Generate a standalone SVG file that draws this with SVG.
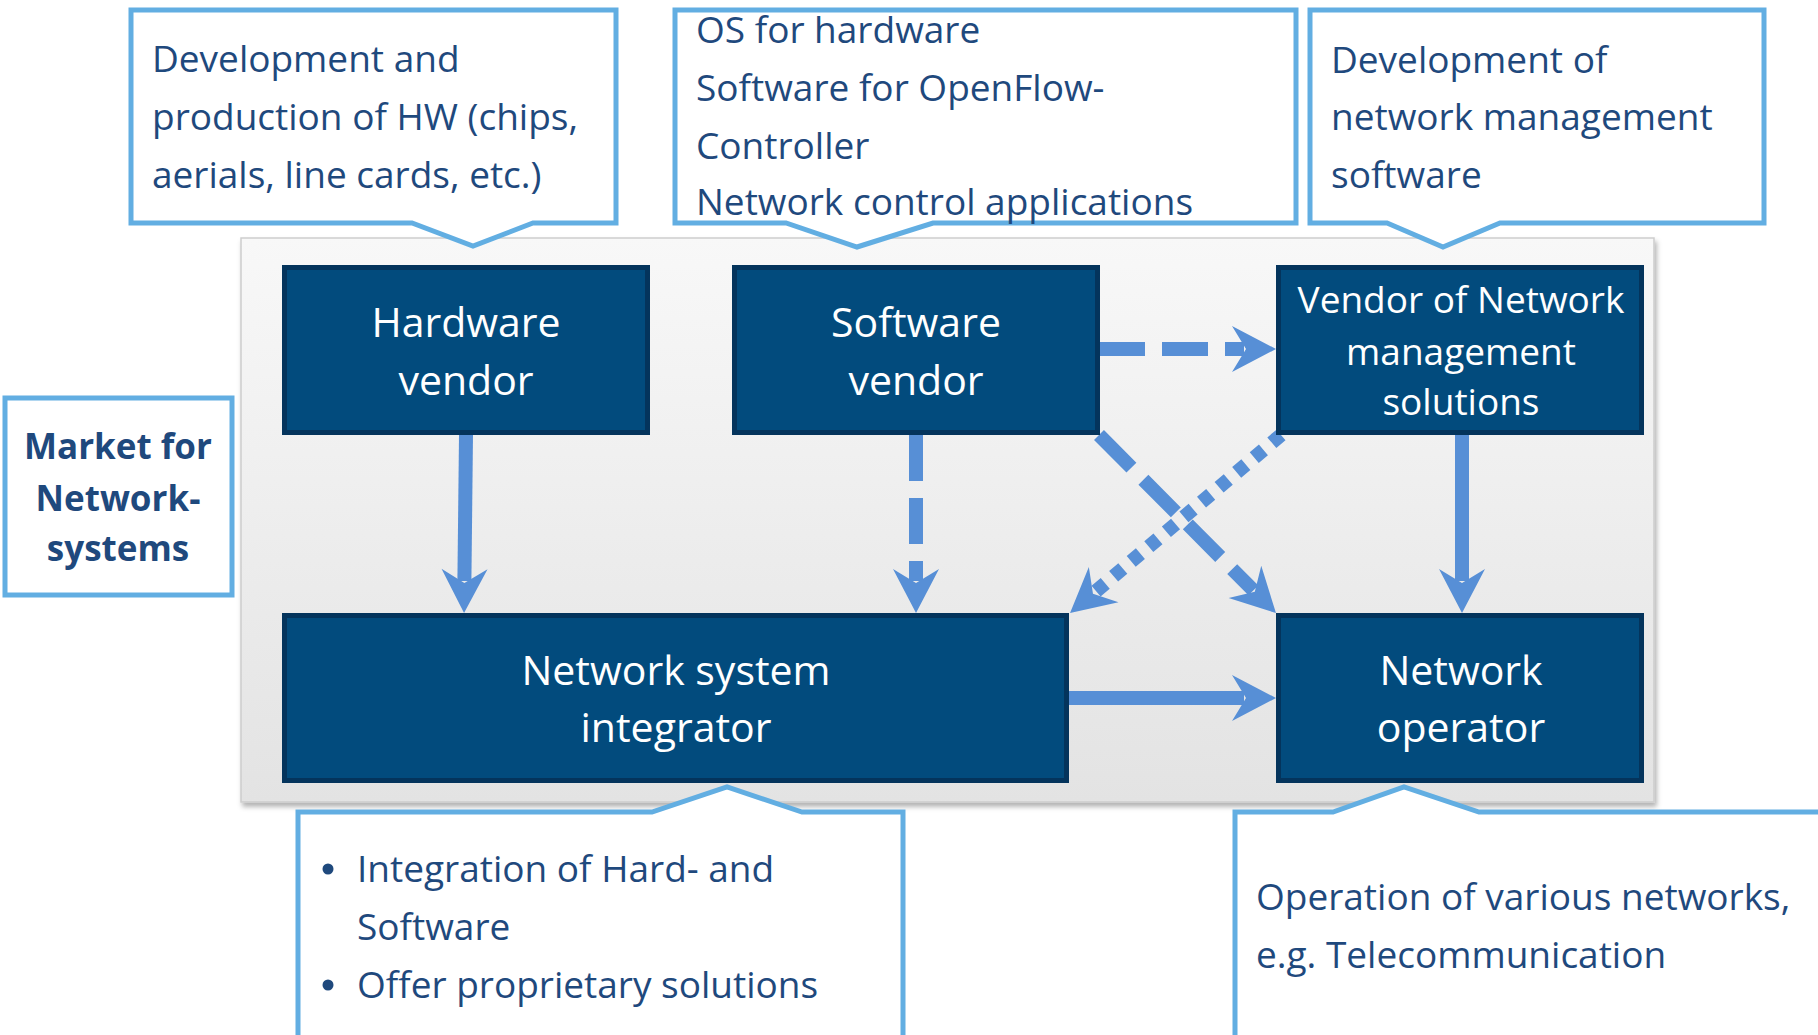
<svg xmlns="http://www.w3.org/2000/svg" width="1818" height="1035" viewBox="0 0 1818 1035">
<style>
.callout{fill:#ffffff;stroke:#62aee2;stroke-width:5;stroke-linejoin:miter}
.ctext{font-family:"Open Sans","Noto Sans",sans-serif;font-size:37px;fill:#1f497d}
.node{fill:#024b7d;stroke:#04345c;stroke-width:5}
.ntext{font-family:"Open Sans","Noto Sans",sans-serif;font-size:41px;fill:#ffffff;text-anchor:middle}
.ntext-s{font-size:37px}
.mtext{font-family:"Open Sans","Noto Sans",sans-serif;font-size:35px;font-weight:bold;fill:#1f497d;text-anchor:middle}
.conn{fill:none;stroke:#578fd6;stroke-width:14;marker-end:url(#head)}
.dash{stroke-dasharray:46 17}
.dot{stroke-dasharray:12 11}
</style>
<defs>
<linearGradient id="panelGrad" x1="0" y1="0" x2="0" y2="1">
<stop offset="0" stop-color="#f8f8f8"/>
<stop offset="1" stop-color="#e3e3e3"/>
</linearGradient>
<filter id="shadow" x="-5%" y="-5%" width="110%" height="115%">
<feDropShadow dx="2" dy="4" stdDeviation="2.5" flood-color="#000000" flood-opacity="0.3"/>
</filter>
<marker id="head" viewBox="-46 -25 48 50" markerWidth="48" markerHeight="50" refX="-32" refY="0" orient="auto" markerUnits="userSpaceOnUse">
<path d="M0,0 L-44,-23 L-30,0 L-44,23 Z" fill="#578fd6"/>
</marker>
</defs>

<rect id="panel" x="241" y="238" width="1413" height="564" fill="url(#panelGrad)" stroke="#cdcdcd" stroke-width="1.5" filter="url(#shadow)"/>

<g id="callout-hw">
<path class="callout" d="M131,10 H616 V223 H533 L473,246 L412,223 H131 Z"/>
<text class="ctext" x="152" y="72">Development and</text>
<text class="ctext" x="152" y="130">production of HW (chips,</text>
<text class="ctext" x="152" y="188">aerials, line cards, etc.)</text>
</g>

<g id="callout-sw">
<path class="callout" d="M675,10 H1296 V223 H933 L857,247 L786,223 H675 Z"/>
<text class="ctext" x="696" y="43">OS for hardware</text>
<text class="ctext" x="696" y="101">Software for OpenFlow-</text>
<text class="ctext" x="696" y="159">Controller</text>
<text class="ctext" x="696" y="215">Network control applications</text>
</g>

<g id="callout-nms">
<path class="callout" d="M1310,10 H1764 V223 H1500 L1443,247 L1387,223 H1310 Z"/>
<text class="ctext" x="1331" y="73">Development of</text>
<text class="ctext" x="1331" y="130">network management</text>
<text class="ctext" x="1331" y="188">software</text>
</g>

<g id="market">
<rect x="5" y="398" width="227" height="197" fill="#ffffff" stroke="#62aee2" stroke-width="5"/>
<text class="mtext" x="118" y="459">Market for</text>
<text class="mtext" x="118" y="511">Network-</text>
<text class="mtext" x="118" y="561">systems</text>
</g>

<g id="connectors">
<path class="conn" d="M466,435 L464.4,581"/>
<path class="conn dash" d="M916,435 L916,581"/>
<path class="conn dash" d="M1099,349 L1244,349"/>
<path class="conn dash" d="M1099,435 L1253.4,590.4"/>
<path class="conn dot" d="M1281,435 L1094.5,592.4"/>
<path class="conn" d="M1462,435 L1462,581"/>
<path class="conn" d="M1069,698 L1244,698"/>
</g>

<g id="node-hw">
<rect class="node" x="284.5" y="267.5" width="363" height="165"/>
<text class="ntext" x="466" y="337">Hardware</text>
<text class="ntext" x="466" y="395">vendor</text>
</g>

<g id="node-sw">
<rect class="node" x="734.5" y="267.5" width="363" height="165"/>
<text class="ntext" x="916" y="337">Software</text>
<text class="ntext" x="916" y="395">vendor</text>
</g>

<g id="node-nms">
<rect class="node" x="1278.5" y="267.5" width="363" height="165"/>
<text class="ntext ntext-s" x="1461" y="313">Vendor of Network</text>
<text class="ntext ntext-s" x="1461" y="365">management</text>
<text class="ntext ntext-s" x="1461" y="415">solutions</text>
</g>

<g id="node-int">
<rect class="node" x="284.5" y="615.5" width="782" height="165"/>
<text class="ntext" x="676" y="685">Network system</text>
<text class="ntext" x="676" y="742">integrator</text>
</g>

<g id="node-op">
<rect class="node" x="1278.5" y="615.5" width="363" height="165"/>
<text class="ntext" x="1461" y="685">Network</text>
<text class="ntext" x="1461" y="742">operator</text>
</g>

<g id="callout-int">
<path class="callout" d="M298,1045 V812 H652 L727,787 L802,812 H903 V1045"/>
<circle cx="328" cy="869" r="5.5" fill="#1f497d"/>
<text class="ctext" x="357" y="882">Integration of Hard- and</text>
<text class="ctext" x="357" y="940">Software</text>
<circle cx="328" cy="985" r="5.5" fill="#1f497d"/>
<text class="ctext" x="357" y="998">Offer proprietary solutions</text>
</g>

<g id="callout-op">
<path class="callout" d="M1235,1045 V812 H1333 L1404,787 L1479,812 H1830"/>
<text class="ctext" x="1256" y="910">Operation of various networks,</text>
<text class="ctext" x="1256" y="968">e.g. Telecommunication</text>
</g>
</svg>
